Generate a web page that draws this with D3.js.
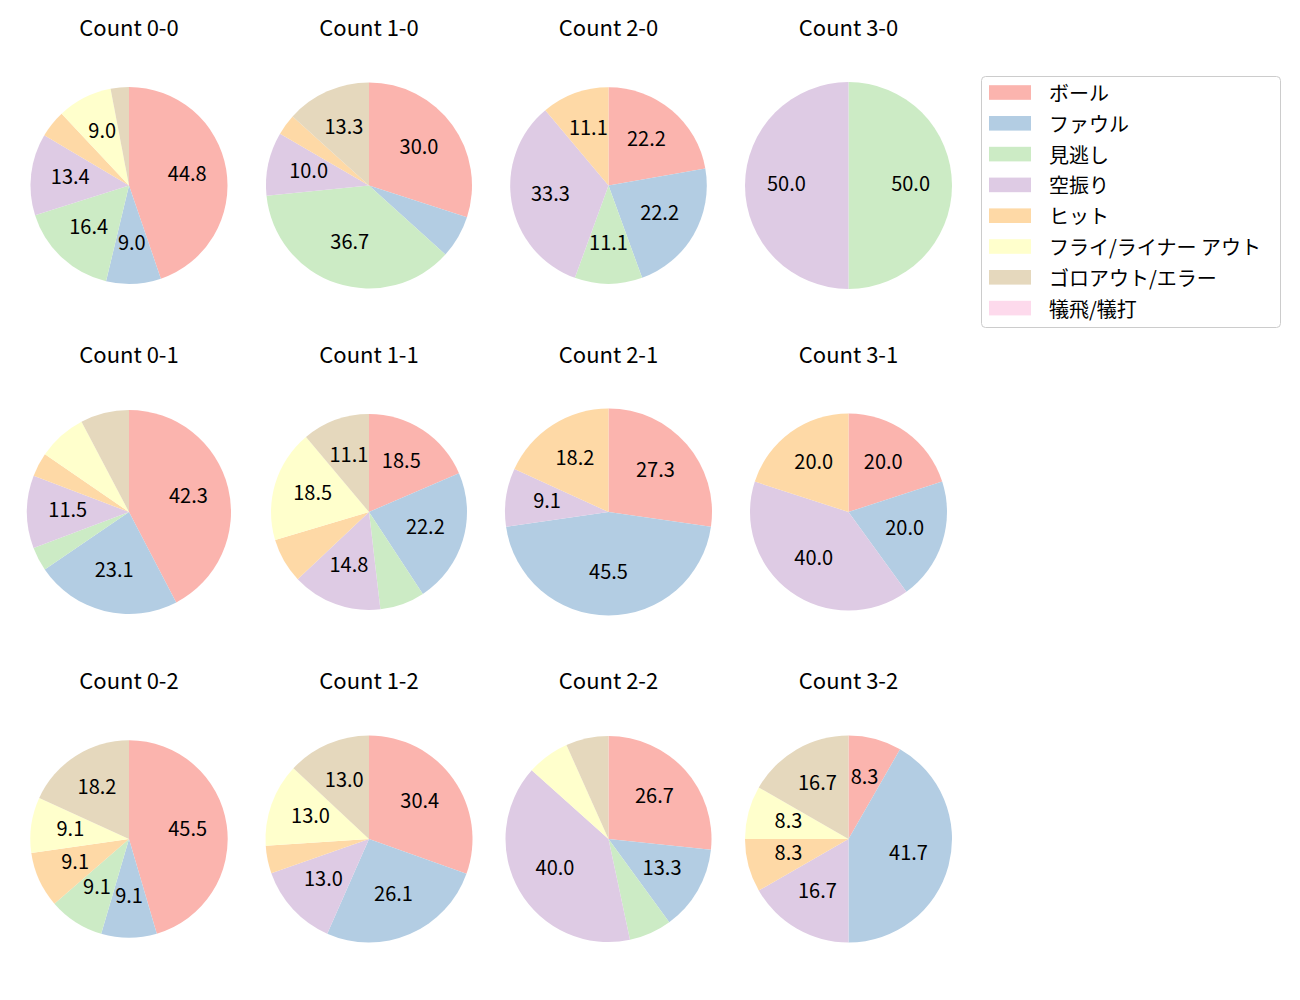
<!DOCTYPE html>
<html>
<head>
<meta charset="utf-8">
<script src="https://cdn.jsdelivr.net/npm/d3@7"></script>
<style>
  html, body { margin: 0; padding: 0; background: #fff; }
  svg { display: block; }
  text { font-family: "Noto Sans CJK JP", "Noto Sans", sans-serif; fill: #000; }
</style>
</head>
<body>
<svg id="chart" width="1300" height="1000"></svg>
<script>
// ---- data ----
const categories = ["ボール", "ファウル", "見逃し", "空振り", "ヒット", "フライ/ライナー アウト", "ゴロアウト/エラー", "犠飛/犠打"];
const colors = ["#fbb4ae", "#b3cde3", "#ccebc5", "#decbe4", "#fed9a6", "#ffffcc", "#e5d8bd", "#fddaec"];
const countLabels = ["0-0", "1-0", "2-0", "3-0", "0-1", "1-1", "2-1", "3-1", "0-2", "1-2", "2-2", "3-2"];
// percentage shares per category (order as in categories)
const c00 = [44.8, 9.0, 16.4, 13.4, 4.5, 9.0, 3.0, 0];
const c10 = [30.0, 6.7, 36.7, 10.0, 3.3, 0, 13.3, 0];
const c20 = [22.2, 22.2, 11.1, 33.3, 11.1, 0, 0, 0];
const c30 = [0, 0, 50.0, 50.0, 0, 0, 0, 0];
const c01 = [42.3, 23.1, 3.8, 11.5, 3.8, 7.7, 7.7, 0];
const c11 = [18.5, 22.2, 7.4, 14.8, 7.4, 18.5, 11.1, 0];
const c21 = [27.3, 45.5, 0, 9.1, 18.2, 0, 0, 0];
const c31 = [20.0, 20.0, 0, 40.0, 20.0, 0, 0, 0];
const c02 = [45.5, 9.1, 9.1, 0, 9.1, 9.1, 18.2, 0];
const c12 = [30.4, 26.1, 0, 13.0, 4.3, 13.0, 13.0, 0];
const c22 = [26.7, 13.3, 6.7, 40.0, 0, 6.7, 6.7, 0];
const c32 = [8.3, 41.7, 0, 16.7, 8.3, 8.3, 16.7, 0];
const seriesValues = [c00, c10, c20, c30, c01, c11, c21, c31, c02, c12, c22, c32];

// ---- layout ----
const colX = [129, 369, 608.5, 848.5];
const rowY = [185.5, 512, 839];
const titleBaseline = [36, 363, 689];
const radii = [98.5, 103, 98.3, 103.5, 102, 98, 103.5, 98.5, 98.7, 103.5, 103, 103.5];
const titleSize = 22;
const labelSize = 20;
const legendSize = 20;
const labelMin = 8;

const svg = d3.select("#chart");
const pie = d3.pie().sort(null).value(d => d).startAngle(0).endAngle(2 * Math.PI);

seriesValues.forEach((vals, i) => {
  const col = i % 4, row = Math.floor(i / 4);
  const r = radii[i];
  const g = svg.append("g").attr("transform", `translate(${colX[col]},${rowY[row]})`);
  const arc = d3.arc().innerRadius(0).outerRadius(r);
  const labelArc = d3.arc().innerRadius(r * 0.6).outerRadius(r * 0.6);
  const arcs = pie(vals).map((a, k) => Object.assign(a, { k }));
  const shown = arcs.filter(a => a.value > 0);
  g.selectAll("path").data(shown).join("path")
    .attr("d", arc)
    .attr("fill", a => colors[a.k]);
  g.selectAll("text.pct").data(shown.filter(a => a.value >= labelMin)).join("text")
    .attr("class", "pct")
    .attr("transform", a => `translate(${labelArc.centroid(a)})`)
    .attr("text-anchor", "middle")
    .attr("dy", "0.26em")
    .style("font-size", labelSize + "px")
    .text(a => a.value.toFixed(1));
  svg.append("text")
    .attr("x", colX[col]).attr("y", titleBaseline[row])
    .attr("text-anchor", "middle")
    .style("font-size", titleSize + "px")
    .text("Count " + countLabels[i]);
});

// ---- legend ----
const lg = svg.append("g");
lg.append("rect")
  .attr("x", 981.5).attr("y", 76.5).attr("width", 299).attr("height", 251)
  .attr("rx", 4).attr("ry", 4)
  .attr("fill", "#fff").attr("fill-opacity", 0.8)
  .attr("stroke", "#cccccc").attr("stroke-width", 1);
categories.forEach((c, i) => {
  const cy = 92.5 + i * 30.8;
  lg.append("rect")
    .attr("x", 989).attr("y", cy - 7.3).attr("width", 42).attr("height", 14.6)
    .attr("fill", colors[i]);
  lg.append("text")
    .attr("x", 1049).attr("y", cy)
    .attr("dominant-baseline", "central")
    .style("font-size", legendSize + "px")
    .text(c);
});
</script>
</body>
</html>
